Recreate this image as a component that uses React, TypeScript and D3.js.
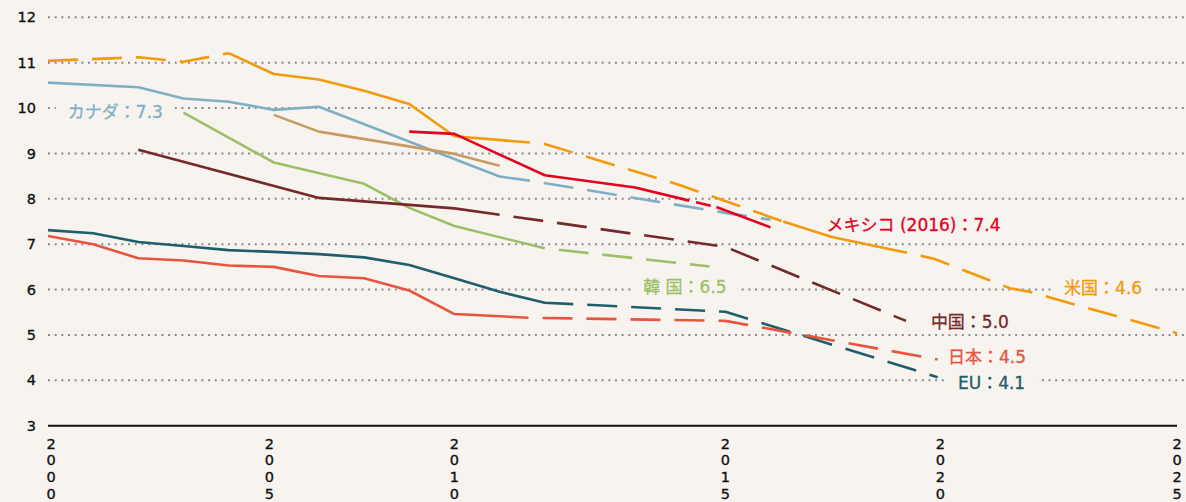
import React, { useEffect, useRef } from 'react';
import * as d3 from 'd3';

type Pt = [number, number];
type Run = { style: 'solid' | 'dash' | 'short'; points: Pt[] };

const W = 1186;
const H = 502;

// Axis ticks
const yTicks = [3, 4, 5, 6, 7, 8, 9, 10, 11, 12];
const xTickLabels = ['2000', '2005', '2010', '2015', '2020', '2025'];
const xTickYears = [2000.07, 2004.9, 2009.0, 2015.0, 2019.76, 2025.0];

// Series values [year, value]
const canadaRuns: Run[] = [
  { style: 'solid', points: [[2000, 10.56], [2002, 10.46], [2003, 10.21], [2004, 10.14], [2005, 9.96], [2006, 10.03], [2010, 8.49], [2010.67, 8.4]] },
  { style: 'dash', points: [[2010.67, 8.4], [2015, 7.69], [2016, 7.54]] },
];
const tanRuns: Run[] = [
  { style: 'solid', points: [[2005, 9.85], [2006, 9.48], [2009, 8.99], [2010, 8.73]] },
];
const koreaRuns: Run[] = [
  { style: 'solid', points: [[2003, 9.9], [2005, 8.8], [2007, 8.33], [2008, 7.8], [2009, 7.4], [2011, 6.91]] },
  { style: 'dash', points: [[2011, 6.91], [2014.65, 6.51]] },
];
const chinaRuns: Run[] = [
  { style: 'solid', points: [[2002, 9.08], [2006, 8.02], [2009, 7.79], [2010, 7.65]] },
  { style: 'dash', points: [[2010, 7.65], [2015, 6.94], [2019, 5.31]] },
];
const euRuns: Run[] = [
  { style: 'solid', points: [[2000, 7.31], [2001, 7.24], [2002, 7.05], [2003, 6.96], [2004, 6.87], [2005, 6.83], [2006, 6.78], [2007, 6.71], [2008, 6.54], [2009, 6.25], [2010, 5.95], [2011, 5.71], [2011.63, 5.68]] },
  { style: 'dash', points: [[2011.63, 5.68], [2015, 5.51], [2019.7, 4.07]] },
];
const japanRuns: Run[] = [
  { style: 'solid', points: [[2000, 7.18], [2001, 7.0], [2002, 6.69], [2003, 6.64], [2004, 6.53], [2005, 6.5], [2006, 6.3], [2007, 6.25], [2008, 5.98], [2009, 5.46], [2010.64, 5.38]] },
  { style: 'dash', points: [[2010.64, 5.38], [2015, 5.31], [2019.7, 4.46]] },
];
const usRuns: Run[] = [
  { style: 'dash', points: [[2000, 11.04], [2002, 11.12], [2003, 11.02], [2004, 11.21]] },
  { style: 'solid', points: [[2004, 11.21], [2005, 10.75], [2006, 10.63], [2007, 10.38], [2008, 10.09], [2009, 9.38], [2010.67, 9.24]] },
  { style: 'dash', points: [[2010.67, 9.24], [2011, 9.21], [2014, 8.3], [2016.28, 7.5]] },
  { style: 'solid', points: [[2016.28, 7.5], [2017.36, 7.16], [2019.02, 6.81]] },
  { style: 'dash', points: [[2019.02, 6.81], [2019.62, 6.68], [2021.3, 6.03], [2021.74, 5.95], [2025, 5.04]] },
];
const mexicoRuns: Run[] = [
  { style: 'solid', points: [[2008, 9.48], [2009, 9.43], [2011, 8.52], [2013, 8.25], [2014.2, 7.96]] },
  { style: 'short', points: [[2014.2, 7.96], [2014.8, 7.82]] },
  { style: 'solid', points: [[2014.8, 7.82], [2016, 7.37]] },
];

const seriesNames = ['canada', 'tan', 'korea', 'china', 'eu', 'japan', 'us', 'mexico'];
const seriesRuns = [canadaRuns, tanRuns, koreaRuns, chinaRuns, euRuns, japanRuns, usRuns, mexicoRuns];
const seriesColors = ['#7FAFC4', '#C99A62', '#9DBF68', '#742A2B', '#1F5E6C', '#E8543F', '#F29A0C', '#E5001F'];

// Labels: text, colour, anchor (year, value) of text start / baseline
const labelTexts = ['カナダ：7.3', 'メキシコ (2016)：7.4', '韓 国：6.5', '米国：4.6', '中国：5.0', '日本：4.5', 'EU：4.1'];
const labelColors = ['#7FAFC4', '#E5001F', '#9DBF68', '#F29A0C', '#742A2B', '#E8543F', '#1F5E6C'];
const labelYears = [2000.44, 2017.24, 2013.18, 2022.5, 2019.55, 2019.93, 2020.15];
const labelValues = [9.78, 7.3, 5.93, 5.9, 5.15, 4.38, 3.8];

const LATIN = "'DejaVu Sans', 'Noto Sans CJK JP', sans-serif";

export default function App() {
  const ref = useRef<SVGSVGElement | null>(null);

  useEffect(() => {
    const svg = d3.select(ref.current);
    svg.selectAll('*').remove();

    const x = d3.scaleLinear().domain([2000, 2025]).range([48, 1177]);
    const y = d3.scaleLinear().domain([3, 12]).range([425.7, 17.3]);

    svg.append('rect').attr('width', W).attr('height', H).attr('fill', '#F7F4F0');

    // gridlines
    svg.append('g')
      .selectAll('line')
      .data(yTicks.filter((t) => t > 3))
      .join('line')
      .attr('x1', x(2000))
      .attr('x2', W)
      .attr('y1', (d) => y(d))
      .attr('y2', (d) => y(d))
      .attr('stroke', '#8a8a8a')
      .attr('stroke-width', 2)
      .attr('stroke-dasharray', '2 4.67');

    // y tick labels
    svg.append('g')
      .selectAll('text')
      .data(yTicks)
      .join('text')
      .attr('x', 36)
      .attr('y', (d) => y(d))
      .attr('dy', '0.35em')
      .attr('text-anchor', 'end')
      .attr('font-family', LATIN)
      .attr('font-size', 14.5)
      .attr('fill', '#111')
      .attr('stroke', '#111')
      .attr('stroke-width', 0.35)
      .text((d) => String(d));

    // x tick labels (stacked digits)
    const xt = svg.append('g');
    xTickLabels.forEach((lab, i) => {
      const t = xt.append('text')
        .attr('text-anchor', 'middle')
        .attr('font-family', LATIN)
        .attr('font-size', 14.5)
        .attr('fill', '#111')
        .attr('stroke', '#111')
        .attr('stroke-width', 0.35);
      lab.split('').forEach((ch, j) => {
        t.append('tspan')
          .attr('x', x(xTickYears[i]))
          .attr('y', 448.5 + j * 16.7)
          .text(ch);
      });
    });

    // labels (moved on top at the end) with background rects under the lines
    const labelG = svg.append('g');
    const texts = labelTexts.map((txt, i) =>
      labelG.append('text')
        .attr('x', x(labelYears[i]))
        .attr('y', y(labelValues[i]))
        .attr('font-family', LATIN)
        .attr('font-size', 17)
        .attr('font-weight', 400)
        .attr('fill', labelColors[i])
        .attr('stroke', labelColors[i])
        .attr('stroke-width', 0.3)
        .text(txt)
    );
    const bgG = svg.insert('g', () => labelG.node() as any);
    texts.forEach((t) => {
      const b = (t.node() as SVGTextElement).getBBox();
      bgG.append('rect')
        .attr('x', b.x - 12)
        .attr('y', b.y - 2)
        .attr('width', b.width + 24)
        .attr('height', b.height + 4)
        .attr('fill', '#F7F4F0');
    });

    // axis baseline
    svg.append('line')
      .attr('x1', x(2000))
      .attr('x2', x(2025))
      .attr('y1', y(3))
      .attr('y2', y(3))
      .attr('stroke', '#111')
      .attr('stroke-width', 2);

    // lines
    const line = d3.line<Pt>().x((d) => x(d[0])).y((d) => y(d[1]));
    const linesG = svg.append('g');
    seriesRuns.forEach((runs, si) => {
      runs.forEach((run, ri) => {
        const p = linesG.append('path')
          .attr('d', line(run.points))
          .attr('fill', 'none')
          .attr('stroke', seriesColors[si])
          .attr('stroke-width', 2.6)
          .attr('stroke-linejoin', 'round')
          .attr('data-series', seriesNames[si]);
        if (run.style === 'dash') {
          p.attr('stroke-dasharray', '30 14').attr('stroke-dashoffset', ri === 0 ? 0 : 30);
        } else if (run.style === 'short') {
          p.attr('stroke-dasharray', '0 7 15 7');
        }
      });
    });

    svg.node()!.appendChild(labelG.node()!);
  }, []);

  return (
    <svg
      ref={ref}
      width={W}
      height={H}
      style={{ position: 'absolute', left: 0, top: 0, display: 'block' }}
    />
  );
}
